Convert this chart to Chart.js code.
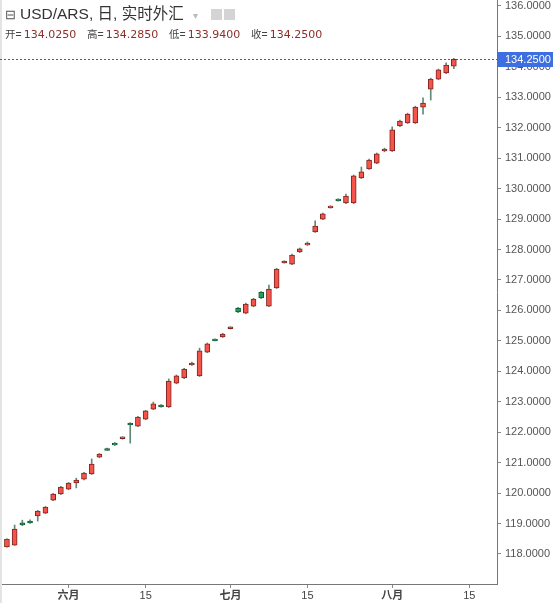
<!DOCTYPE html>
<html>
<head>
<meta charset="utf-8">
<script src="https://cdn.jsdelivr.net/npm/chart.js@4.4.0/dist/chart.umd.min.js"></script>
<style>
  html, body { margin: 0; padding: 0; background: #fff; }
  #wrap { position: relative; width: 553px; height: 603px; }
  #hdr { position: absolute; left: 5px; top: 4px; font-family: "Liberation Sans", "Noto Sans CJK SC", sans-serif; color: #333; }
  #title { font-size: 15.5px; line-height: 20px; white-space: nowrap; }
  #title .box { font-size: 13px; color: #555; margin-right: 4px; }
  #title .arrow { color: #bbb; font-size: 10px; margin-left: 9px; }
  #title .ico { display: inline-block; width: 11px; height: 11px; background: #d4d4d4; margin-left: 2px; vertical-align: -1px; }
  #title .ico.first { margin-left: 13px; }
  #ohlc { line-height: 16px; white-space: nowrap; color: #444; margin-top: -1px; }
  #ohlc .g { display: inline-block; width: 82px; }
  #ohlc i { font-style: normal; font-size: 10.5px; }
  #ohlc b { font-weight: normal; font-family: "DejaVu Sans", sans-serif; font-size: 11px; color: #8b2f2a; margin-left: 2px; }
</style>
</head>
<body>
<div id="wrap">
  <canvas id="c" width="553" height="603" style="width:553px;height:603px"></canvas>
  <div id="hdr">
    <div id="title"><span class="box">⊟</span>USD/ARS, 日, 实时外汇<span class="arrow">▾</span><span class="ico first"></span><span class="ico"></span></div>
    <div id="ohlc"><span class="g"><i>开=</i><b>134.0250</b></span><span class="g"><i>高=</i><b>134.2850</b></span><span class="g"><i>低=</i><b>133.9400</b></span><span class="g"><i>收=</i><b>134.2500</b></span></div>
  </div>
</div>
<script>
// daily candles, 2022-05 .. 2022-08-11 (bar index = trading day)
const opens = [
  118.23, 118.29, 119.02, 119.08, 119.25, 119.34, 119.77, 119.97, 120.13, 120.33,
  120.46, 120.63, 121.18, 121.46, 121.64, 121.79, 122.30, 122.20, 122.43, 122.76,
  122.89, 122.83, 123.61, 123.78, 124.21, 123.85, 124.63, 125.06, 125.13, 125.40,
  126.08, 125.91, 126.14, 126.60, 126.14, 126.74, 127.56, 127.52, 127.92, 128.15,
  128.58, 129.00, 129.37, 129.66, 129.53, 129.53, 130.35, 130.65, 130.84, 131.24,
  131.24, 132.06, 132.16, 132.16, 132.68, 133.27, 133.60, 133.80, 134.025
];
const highs = [
  118.50, 118.95, 119.11, 119.12, 119.43, 119.56, 119.99, 120.22, 120.35, 120.49,
  120.68, 121.12, 121.30, 121.48, 121.66, 121.85, 122.31, 122.52, 122.72, 122.99,
  122.91, 123.75, 123.88, 124.10, 124.30, 124.76, 124.93, 125.07, 125.25, 125.46,
  126.10, 126.24, 126.40, 126.62, 126.83, 127.38, 127.63, 127.85, 128.05, 128.25,
  128.94, 129.20, 129.44, 129.67, 129.82, 130.45, 130.71, 130.97, 131.17, 131.33,
  132.03, 132.25, 132.48, 132.71, 132.98, 133.63, 133.93, 134.13, 134.285
];
const lows = [
  118.22, 118.28, 118.93, 119.00, 119.08, 119.32, 119.75, 119.95, 120.11, 120.17,
  120.43, 120.61, 121.16, 121.41, 121.56, 121.77, 121.64, 122.18, 122.41, 122.74,
  122.82, 122.81, 123.59, 123.76, 124.19, 123.83, 124.61, 125.00, 125.11, 125.39,
  125.93, 125.89, 126.12, 126.39, 126.12, 126.72, 127.55, 127.50, 127.90, 128.13,
  128.56, 128.98, 129.36, 129.59, 129.51, 129.51, 130.33, 130.63, 130.82, 131.21,
  131.22, 132.04, 132.14, 132.14, 132.45, 132.91, 133.58, 133.78, 133.94
];
const closes = [
  118.49, 118.82, 118.95, 119.02, 119.41, 119.54, 119.97, 120.20, 120.33, 120.43,
  120.66, 120.95, 121.28, 121.40, 121.58, 121.85, 122.24, 122.50, 122.70, 122.93,
  122.83, 123.68, 123.85, 124.07, 124.27, 124.67, 124.90, 125.00, 125.22, 125.46,
  125.95, 126.21, 126.37, 126.41, 126.70, 127.36, 127.62, 127.82, 128.02, 128.21,
  128.77, 129.17, 129.43, 129.60, 129.76, 130.42, 130.55, 130.94, 131.14, 131.30,
  131.93, 132.22, 132.45, 132.68, 132.81, 133.60, 133.90, 134.06, 134.25
];

const xTickIdx = [8, 18, 29, 39, 50, 60];
const xTickLabels = ["六月", "15", "七月", "15", "八月", "15"];
const yTickValues = [118, 119, 120, 121, 122, 123, 124, 125, 126, 127, 128, 129, 130, 131, 132, 133, 134, 135, 136];

const upFill = "#f5544b", upLine = "#7e2420";
const downFill = "#22a05c", downLine = "#0e5a31";
const wickColor = "#5f8a78";

const isUp = closes.map((c, i) => c >= opens[i]);
const bodies = opens.map((o, i) => ({ x: i, y: [o, closes[i]] }));
const wicks = highs.map((h, i) => ({ x: i, y: [lows[i], h] }));
const lastClose = closes[closes.length - 1];

const priceLine = {
  id: "priceLine",
  beforeDatasetsDraw(chart) {
    const { ctx, chartArea, scales } = chart;
    const y = Math.round(scales.y.getPixelForValue(lastClose)) + 0.5;
    ctx.save();
    ctx.fillStyle = "#e4e4e4";
    ctx.fillRect(0, 0, 2, chart.height);
    ctx.strokeStyle = "#2f5fd8";
    ctx.lineWidth = 1;
    ctx.setLineDash([2, 2]);
    ctx.beginPath();
    ctx.moveTo(chartArea.left, y);
    ctx.lineTo(chartArea.right, y);
    ctx.stroke();
    ctx.restore();
  },
  afterDraw(chart) {
    const { ctx, chartArea, scales } = chart;
    const y = Math.round(scales.y.getPixelForValue(lastClose));
    ctx.save();
    ctx.fillStyle = "#3d6fe0";
    ctx.fillRect(chartArea.right, y - 7, chart.width - chartArea.right, 15);
    ctx.fillStyle = "#fff";
    ctx.font = "11px 'Liberation Sans', sans-serif";
    ctx.textBaseline = "middle";
    ctx.fillText(lastClose.toFixed(4), chartArea.right + 8, y + 1);
    ctx.restore();
  },
};

new Chart(document.getElementById("c"), {
  type: "bar",
  data: {
    datasets: [
      {
        label: "body",
        data: bodies,
        backgroundColor: isUp.map((u) => (u ? upFill : downFill)),
        borderColor: isUp.map((u) => (u ? upLine : downLine)),
        borderWidth: 1,
        borderSkipped: false,
        barThickness: 5,
        grouped: false,
        order: 1,
      },
      {
        label: "wick",
        data: wicks,
        backgroundColor: wickColor,
        borderWidth: 0,
        barThickness: 1,
        grouped: false,
        order: 2,
      },
    ],
  },
  options: {
    responsive: false,
    animation: false,
    layout: { padding: 0 },
    plugins: {
      legend: { display: false },
      tooltip: { enabled: false },
    },
    scales: {
      x: {
        type: "linear",
        min: -0.9,
        max: 63.6,
        offset: false,
        afterBuildTicks: (scale) => {
          scale.ticks = xTickIdx.map((v) => ({ value: v }));
        },
        afterFit: (scale) => {
          scale.height = 19;
          scale.paddingLeft = 0;
          scale.paddingRight = 0;
        },
        ticks: {
          autoSkip: false,
          maxRotation: 0,
          padding: 1,
          color: "#444",
          font: (c) => ({
            family: "'Liberation Sans', 'Noto Sans CJK SC', sans-serif",
            size: 11,
            weight: c.tick && xTickLabels[xTickIdx.indexOf(c.tick.value)] !== "15" ? "bold" : "normal",
          }),
          callback: (v) => xTickLabels[xTickIdx.indexOf(v)],
        },
        grid: { offset: false, drawOnChartArea: false, tickLength: 4, color: "#888" },
        border: { color: "#777" },
      },
      y: {
        position: "right",
        min: 117.013,
        max: 136.197,
        afterBuildTicks: (scale) => {
          scale.ticks = yTickValues.map((v) => ({ value: v }));
        },
        afterFit: (scale) => {
          scale.width = 56;
          scale.paddingTop = 0;
          scale.paddingBottom = 0;
        },
        ticks: {
          padding: 4,
          color: "#555",
          font: { family: "'Liberation Sans', sans-serif", size: 11 },
          callback: (v) => v.toFixed(4),
        },
        grid: { drawOnChartArea: false, tickLength: 4, color: "#888" },
        border: { color: "#777" },
      },
    },
  },
  plugins: [priceLine],
});
</script>
</body>
</html>
